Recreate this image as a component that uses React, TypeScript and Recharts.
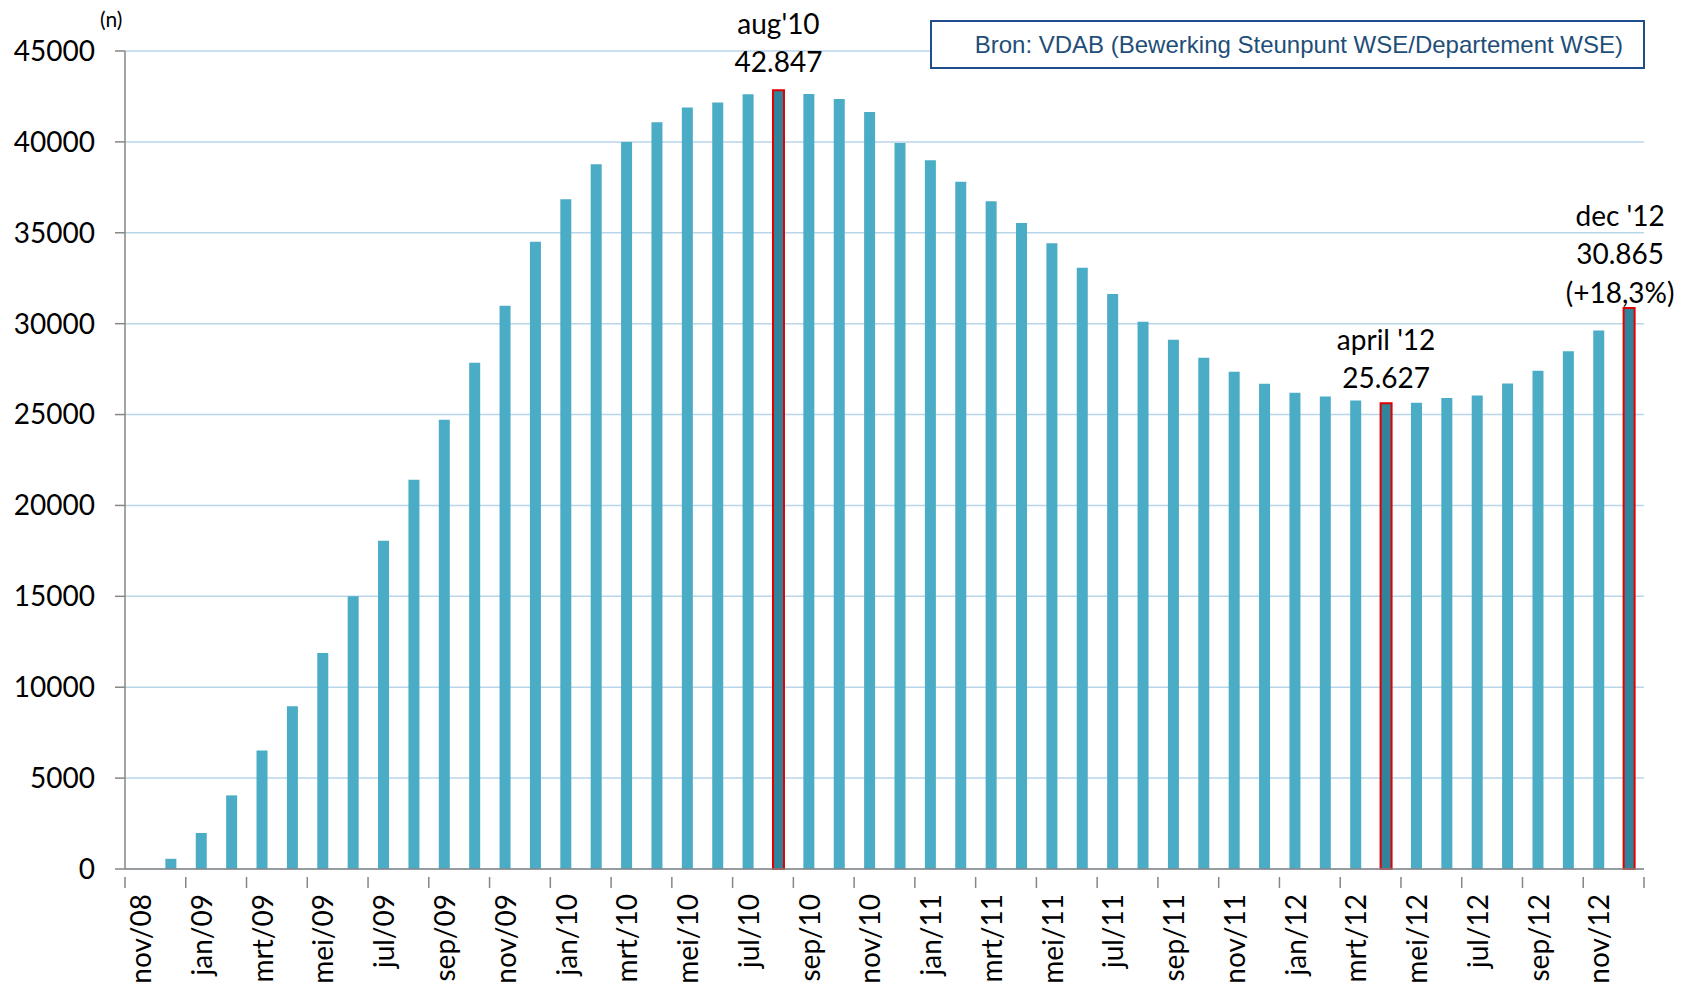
import React from "react";
import { BarChart, Bar, XAxis, YAxis, CartesianGrid, Cell, LabelList } from "recharts";

const months = [
  "nov/08", "dec/08",
  "jan/09", "feb/09", "mrt/09", "apr/09", "mei/09", "jun/09", "jul/09", "aug/09", "sep/09", "okt/09", "nov/09", "dec/09",
  "jan/10", "feb/10", "mrt/10", "apr/10", "mei/10", "jun/10", "jul/10", "aug/10", "sep/10", "okt/10", "nov/10", "dec/10",
  "jan/11", "feb/11", "mrt/11", "apr/11", "mei/11", "jun/11", "jul/11", "aug/11", "sep/11", "okt/11", "nov/11", "dec/11",
  "jan/12", "feb/12", "mrt/12", "apr/12", "mei/12", "jun/12", "jul/12", "aug/12", "sep/12", "okt/12", "nov/12", "dec/12",
];

const counts = [
  0, 560,
  1980, 4050, 6520, 8960, 11880, 15000, 18060, 21420, 24720, 27850, 30990, 34510,
  36840, 38770, 39990, 41080, 41890, 42160, 42620, 42847, 42640, 42360, 41650, 39940,
  38990, 37810, 36730, 35540, 34420, 33080, 31630, 30110, 29120, 28130, 27360, 26690,
  26200, 25990, 25780, 25627, 25650, 25910, 26055, 26710, 27410, 28480, 29620, 30865,
];

const yTicks = [0, 5000, 10000, 15000, 20000, 25000, 30000, 35000, 40000, 45000];

// highlighted months and the text written above them
const highlighted = ["aug/10", "apr/12", "dec/12"];
const notes: Record<string, string[]> = {
  "aug/10": ["aug'10", "42.847"],
  "apr/12": ["april '12", "25.627"],
  "dec/12": ["dec '12", "30.865", "(+18,3%)"],
};

const source = "Bron: VDAB (Bewerking Steunpunt WSE/Departement WSE)";

const data = months.map((m, i) => ({ m, v: counts[i] }));

const W = 1690;
const H = 987;
const PLOT_LEFT = 125;
const PLOT_RIGHT = 1644;
const BAND = (PLOT_RIGHT - PLOT_LEFT) / months.length;
const FONT = "Lato, 'Open Sans', sans-serif";

const noteLift: Record<string, { lift: number; dx: number }> = {
  "aug/10": { lift: 18, dx: 0 },
  "apr/12": { lift: 15, dx: 0 },
  "dec/12": { lift: 5, dx: -9 },
};

function MonthTick(props: any) {
  const { x, y, payload } = props;
  const left = x - BAND / 2;
  const isLast = payload.value === months[months.length - 2];
  return (
    <g>
      <line x1={left} x2={left} y1={y} y2={y + 11} stroke="#868686" strokeWidth={1.5} />
      {isLast && (
        <line x1={x + BAND * 1.5} x2={x + BAND * 1.5} y1={y} y2={y + 11} stroke="#868686" strokeWidth={1.5} />
      )}
      <text
        transform={`translate(${x + 11},${y + 17}) rotate(-90)`}
        textAnchor="end"
        fontFamily={FONT}
        fontSize={28}
        fill="#000"
      >
        {payload.value}
      </text>
    </g>
  );
}

function Note(props: any) {
  const { x, y, width, value } = props;
  const month = months[counts.indexOf(Number(value))];
  const lines = notes[month];
  if (!lines) return null;
  const { lift, dx } = noteLift[month];
  const cx = x + width / 2 + dx;
  const last = y - lift;
  return (
    <g>
      {lines.map((t, k) => (
        <text
          key={k}
          x={cx}
          y={last - (lines.length - 1 - k) * 38.5}
          textAnchor="middle"
          fontFamily={FONT}
          fontSize={28}
          fill="#000"
        >
          {t}
        </text>
      ))}
    </g>
  );
}

export default function App() {
  return (
    <div style={{ position: "absolute", left: 0, top: 0, width: W, height: H, background: "#fff" }}>
      <BarChart width={W} height={H} data={data} margin={{ top: 51, right: W - PLOT_RIGHT, bottom: 0, left: 0 }}>
        <CartesianGrid vertical={false} stroke="#b9d5ea" strokeWidth={1.5} />
        <XAxis
          dataKey="m"
          interval={1}
          tickLine={false}
          axisLine={{ stroke: "#868686", strokeWidth: 1.5 }}
          height={118}
          tick={<MonthTick />}
        />
        <YAxis
          domain={[0, 45000]}
          ticks={yTicks}
          width={PLOT_LEFT}
          tickSize={10}
          tickMargin={20}
          axisLine={{ stroke: "#868686", strokeWidth: 1.5 }}
          tickLine={{ stroke: "#868686", strokeWidth: 1.5 }}
          tick={{ fontFamily: FONT, fontSize: 28, fill: "#000" }}
        />
        <Bar dataKey="v" barSize={11} fill="#4bacc6" isAnimationActive={false}>
          {data.map((d) =>
            highlighted.includes(d.m) ? (
              <Cell key={d.m} fill="#31849b" stroke="#e00000" strokeWidth={2} />
            ) : (
              <Cell key={d.m} fill="#4bacc6" />
            )
          )}
          <LabelList dataKey="v" content={<Note />} />
        </Bar>
      </BarChart>
      <div
        style={{
          position: "absolute",
          left: 100,
          top: 6,
          fontFamily: FONT,
          fontSize: 21,
          color: "#000",
        }}
      >
        (n)
      </div>
      <div
        style={{
          position: "absolute",
          left: 930,
          top: 20,
          width: 715,
          height: 49,
          boxSizing: "border-box",
          border: "2px solid #1f4e8c",
          background: "#fff",
          fontFamily: "'Liberation Sans', Arial, sans-serif",
          fontSize: 24,
          color: "#1f4e79",
          display: "flex",
          alignItems: "center",
          justifyContent: "flex-end",
          paddingRight: 20,
        }}
      >
        {source}
      </div>
    </div>
  );
}
